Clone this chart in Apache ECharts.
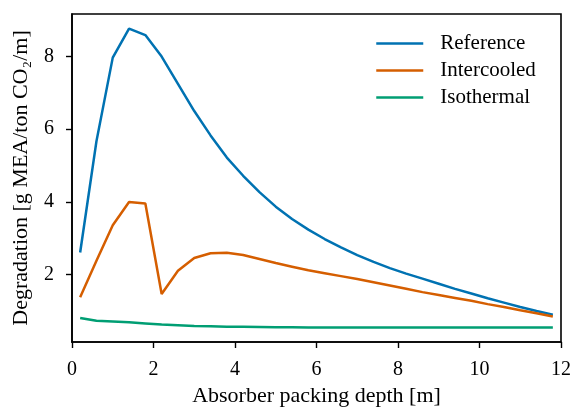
<!DOCTYPE html>
<html>
<head>
<meta charset="utf-8">
<script src="https://cdn.jsdelivr.net/npm/echarts@6/dist/echarts.min.js"></script>
<style>
  html, body { margin: 0; padding: 0; background: #fff; }
  #chart { width: 574px; height: 412px; }
</style>
</head>
<body>
<div id="chart"></div>
<script>
// Absorber packing depth [m]
const depth = [0.2, 0.6, 1.0, 1.4, 1.8, 2.2, 2.6, 3.0, 3.4, 3.8, 4.2, 4.6, 5.0, 5.4, 5.8,
               6.2, 6.6, 7.0, 7.4, 7.8, 8.2, 8.6, 9.0, 9.4, 9.8, 10.2, 10.6, 11.0, 11.4, 11.8];

// Degradation [g MEA/ton CO2/m]
const reference = [2.61, 5.67, 7.97, 8.77, 8.59, 8.00, 7.25, 6.50, 5.83, 5.22, 4.72, 4.27, 3.87, 3.53, 3.24,
                   2.98, 2.75, 2.54, 2.35, 2.18, 2.03, 1.89, 1.75, 1.61, 1.48, 1.35, 1.23, 1.11, 1.00, 0.90];
const intercooled = [1.38, 2.38, 3.36, 4.00, 3.96, 1.47, 2.11, 2.46, 2.59, 2.60, 2.54, 2.43, 2.32, 2.22, 2.12,
                     2.04, 1.96, 1.88, 1.79, 1.70, 1.61, 1.52, 1.44, 1.36, 1.28, 1.19, 1.11, 1.02, 0.94, 0.85];
const isothermal = [0.81, 0.73, 0.71, 0.69, 0.66, 0.63, 0.61, 0.59, 0.58, 0.57, 0.565, 0.56, 0.555, 0.552, 0.55,
                    0.55, 0.55, 0.548, 0.548, 0.548, 0.547, 0.547, 0.547, 0.546, 0.546, 0.546, 0.545, 0.545, 0.545, 0.545];

const xTicks = [0, 2, 4, 6, 8, 10, 12];
const yTicks = [2, 4, 6, 8];

const seriesNames = ['Reference', 'Intercooled', 'Isothermal'];
const seriesColors = ['#0072B2', '#D55E00', '#009E73'];
const seriesValues = [reference, intercooled, isothermal];

const FONT = '"Liberation Serif", "Times New Roman", serif';
const LINE_W = 2.5;

const chart = echarts.init(document.getElementById('chart'), null, { renderer: 'canvas' });

chart.setOption({
  animation: false,
  backgroundColor: '#fff',
  textStyle: { fontFamily: FONT, color: '#000' },
  grid: {
    left: 72, right: 12, top: 14, bottom: 69,
    show: true, borderColor: '#000', borderWidth: 1.6, backgroundColor: 'transparent'
  },
  legend: {
    orient: 'vertical',
    left: 370, top: 28,
    itemWidth: 47, itemHeight: 14, itemGap: 6,
    itemStyle: { opacity: 0 },
    lineStyle: { width: LINE_W },
    formatter: name => '{pad|}' + name,
    textStyle: {
      fontFamily: FONT, fontSize: 21, color: '#000', lineHeight: 21,
      rich: { pad: { width: 12 } }
    },
    data: seriesNames
  },
  xAxis: {
    type: 'value',
    min: xTicks[0], max: xTicks[xTicks.length - 1], interval: 2,
    name: 'Absorber packing depth [m]',
    nameLocation: 'middle', nameGap: 43,
    nameTextStyle: { fontFamily: FONT, fontSize: 22, color: '#000' },
    axisLine: { show: true, onZero: false, lineStyle: { color: '#000', width: 1.6 } },
    axisTick: { show: true, inside: false, length: 6, lineStyle: { color: '#000', width: 1.4 } },
    axisLabel: { fontFamily: FONT, fontSize: 20, color: '#000', margin: 18 },
    splitLine: { show: false }
  },
  yAxis: {
    type: 'value',
    min: 0.148, max: 9.17,
    name: 'Degradation [g MEA/ton CO\u2082/m]',
    nameLocation: 'middle', nameGap: 40, nameRotate: 90,
    nameTextStyle: { fontFamily: FONT, fontSize: 22, color: '#000' },
    axisLine: { show: true, onZero: false, lineStyle: { color: '#000', width: 1.6 } },
    axisTick: { show: true, inside: false, length: 6, customValues: yTicks, lineStyle: { color: '#000', width: 1.4 } },
    axisLabel: { fontFamily: FONT, fontSize: 20, color: '#000', margin: 18, customValues: yTicks },
    splitLine: { show: false }
  },
  series: seriesNames.map((n, i) => ({
    name: n,
    type: 'line',
    data: depth.map((d, j) => [d, seriesValues[i][j]]),
    showSymbol: false,
    symbol: 'none',
    color: seriesColors[i],
    lineStyle: { color: seriesColors[i], width: LINE_W },
    itemStyle: { color: seriesColors[i] }
  }))
});
</script>
</body>
</html>
